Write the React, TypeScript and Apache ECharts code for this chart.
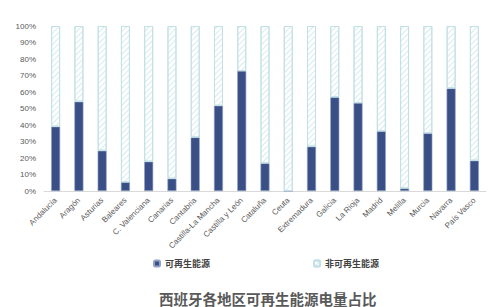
import React, { useEffect, useRef } from "react";
import * as echarts from "echarts";

const regions = [
  "Andalucía", "Aragón", "Asturias", "Baleares", "C. Valenciana", "Canarias",
  "Cantabria", "Castilla-La Mancha", "Castilla y León", "Cataluña", "Ceuta",
  "Extremadura", "Galicia", "La Rioja", "Madrid", "Melilla", "Murcia",
  "Navarra", "País Vasco",
];
const renewable = [39, 54.1, 24.4, 5.3, 17.8, 7.5, 32.5, 51.7, 72.7, 16.8, 0, 26.9, 56.8, 53.3, 36.2, 1.6, 35, 62.2, 18.4];
const nonRenewable = renewable.map((v) => +(100 - v).toFixed(1));
const seriesNames = ["可再生能源", "非可再生能源"];
const title = "西班牙各地区可再生能源电量占比";

export default function App() {
  const ref = useRef<HTMLDivElement>(null);
  useEffect(() => {
    const chart = echarts.init(ref.current!, null, { renderer: "svg" });
    const font = "'Liberation Sans', 'Noto Sans CJK SC', sans-serif";
    const legendText = { fontSize: 9, color: "#404040", fontWeight: "bold", fontFamily: "'Noto Sans CJK SC', sans-serif" };
    chart.setOption({
      animation: false,
      textStyle: { fontFamily: font },
      title: {
        text: title,
        left: 159,
        top: 290,
        padding: 0,
        textStyle: { fontSize: 14.5, lineHeight: 16, fontWeight: "bold", color: "#595959", fontFamily: "'Noto Sans CJK SC', sans-serif" },
      },
      legend: [
        {
          data: [seriesNames[0]],
          left: 148,
          top: 254,
          itemWidth: 6,
          itemHeight: 6,
          itemGap: 4,
          textStyle: legendText,
        },
        {
          data: [seriesNames[1]],
          left: 308,
          top: 254,
          itemWidth: 6,
          itemHeight: 6,
          itemGap: 4,
          textStyle: legendText,
        },
      ],
      grid: { left: 44, right: 6, top: 26, bottom: 116, containLabel: false },
      xAxis: {
        type: "category",
        data: regions,
        axisLine: { lineStyle: { color: "#d9d9d9" } },
        axisTick: { show: false },
        axisLabel: { rotate: 45, fontSize: 8, color: "#595959", interval: 0, margin: 8 },
      },
      yAxis: {
        type: "value",
        min: 0,
        max: 100,
        interval: 10,
        splitLine: { show: false },
        axisLine: { show: false },
        axisTick: { show: false },
        axisLabel: { formatter: "{value}%", fontSize: 8, color: "#595959", margin: 8 },
      },
      series: [
        {
          name: seriesNames[0],
          type: "bar",
          stack: "total",
          barWidth: 9,
          data: renewable,
          itemStyle: { color: "#3a4f86", borderColor: "#8fa2c4", borderWidth: 0.6 },
        },
        {
          name: seriesNames[1],
          type: "bar",
          stack: "total",
          barWidth: 9,
          data: nonRenewable,
          itemStyle: {
            color: "#ffffff",
            borderColor: "#c2e0e5",
            borderWidth: 1,
            decal: {
              symbol: "rect",
              symbolSize: 1,
              color: "#d8eaed",
              backgroundColor: "#ffffff",
              dashArrayX: [1, 0],
              dashArrayY: [1, 3],
              rotation: -Math.PI / 4,
            },
          },
        },
      ],
    });
    return () => chart.dispose();
  }, []);
  return <div ref={ref} style={{ width: 492, height: 307, position: "absolute", left: 0, top: 0 }} />;
}
